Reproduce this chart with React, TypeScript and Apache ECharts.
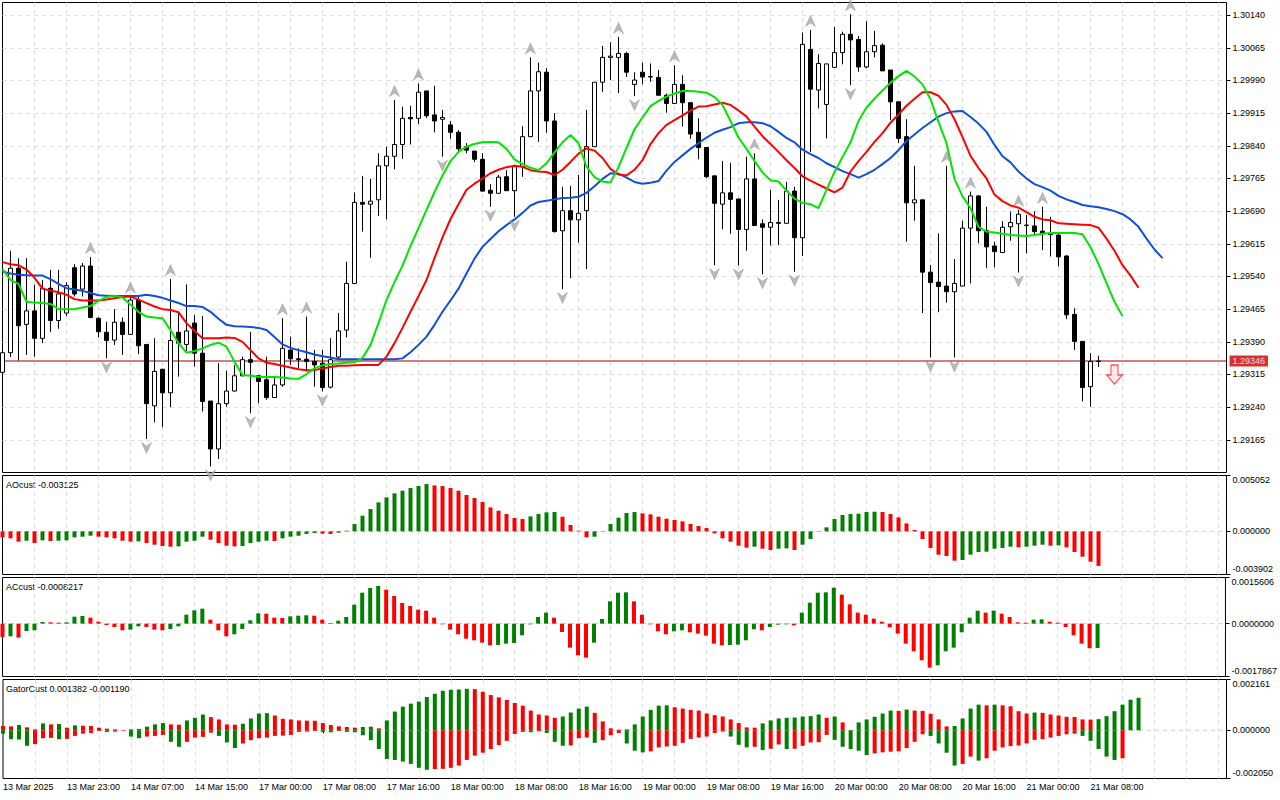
import React, { useEffect, useRef } from "react";
import * as echarts from "echarts";

const FONT = '"Liberation Sans", Arial, sans-serif';
const GREEN = "#008000";
const RED = "#ff0000";
const GRIDC = "#dcdcdc";

const tickLabels = ["13 Mar 2025","13 Mar 23:00","14 Mar 07:00","14 Mar 15:00","17 Mar 00:00","17 Mar 08:00","17 Mar 16:00","18 Mar 00:00","18 Mar 08:00","18 Mar 16:00","19 Mar 00:00","19 Mar 08:00","19 Mar 16:00","20 Mar 00:00","20 Mar 08:00","20 Mar 16:00","21 Mar 00:00","21 Mar 08:00"];
const priceTicks = [1.29165,1.29240,1.29315,1.29390,1.29465,1.29540,1.29615,1.29690,1.29765,1.29840,1.29915,1.29990,1.30065,1.30140];

const open = [1.29320,1.29365,1.29559,1.29430,1.29461,1.29398,1.29513,1.29439,1.29456,1.29560,
1.29511,1.29564,1.29444,1.29412,1.29394,1.29435,1.29407,1.29486,1.29384,1.29243,
1.29327,1.29273,1.29412,1.29384,1.29433,1.29364,1.29254,1.29144,1.29248,1.29277,
1.29312,1.29349,1.29312,1.29303,1.29262,1.29291,1.29371,1.29351,1.29350,1.29345,
1.29341,1.29286,1.29355,1.29417,1.29524,1.29710,1.29706,1.29716,1.29794,1.29816,
1.29843,1.29905,1.29903,1.29966,1.29911,1.29901,1.29888,1.29871,1.29838,1.29828,
1.29809,1.29738,1.29731,1.29769,1.29737,1.29792,1.29861,1.29966,1.30009,1.29897,
1.29645,1.29691,1.29670,1.29691,1.29838,1.29986,1.30043,1.30043,1.30052,1.29981,
1.30009,1.29999,1.29997,1.29956,1.29937,1.29981,1.29939,1.29871,1.29836,1.29771,
1.29706,1.29732,1.29718,1.29648,1.29764,1.29661,1.29653,1.29664,1.29662,1.29736,
1.29629,1.30061,1.29968,1.29935,1.30020,1.30054,1.30096,1.30084,1.30021,1.30056,
1.30071,1.30014,1.29941,1.29861,1.29709,1.29716,1.29550,1.29527,1.29518,1.29505,
1.29518,1.29651,1.29725,1.29645,1.29610,1.29595,1.29654,1.29661,1.29658,1.29656,
1.29644,1.29638,1.29635,1.29587,1.29453,1.29391,1.29287,1.29345];

const high = [1.29374,1.29599,1.29582,1.29582,1.29521,1.29532,1.29555,1.29555,1.29527,1.29568,
1.29571,1.29585,1.29446,1.29436,1.29465,1.29446,1.29494,1.29494,1.29385,1.29398,
1.29328,1.29534,1.29459,1.29522,1.29452,1.29449,1.29254,1.29341,1.29324,1.29337,
1.29356,1.29413,1.29313,1.29356,1.29312,1.29444,1.29402,1.29375,1.29448,1.29371,
1.29371,1.29398,1.29456,1.29574,1.29733,1.29771,1.29764,1.29823,1.29838,1.29945,
1.29930,1.29932,1.29983,1.29966,1.29978,1.29922,1.29897,1.29876,1.29846,1.29828,
1.29823,1.29752,1.29773,1.29784,1.29796,1.29885,1.30043,1.30031,1.30018,1.29915,
1.29746,1.29748,1.29773,1.29922,1.29986,1.30069,1.30078,1.30090,1.30056,1.30009,
1.30031,1.30029,1.30014,1.29960,1.30025,1.30002,1.29939,1.29903,1.29836,1.29771,
1.29805,1.29801,1.29718,1.29815,1.29823,1.29671,1.29739,1.29716,1.29757,1.29746,
1.30100,1.30106,1.30050,1.30028,1.30113,1.30102,1.30142,1.30092,1.30126,1.30104,
1.30075,1.30014,1.29941,1.29901,1.29794,1.29716,1.29566,1.29639,1.29794,1.29580,
1.29668,1.29735,1.29727,1.29700,1.29620,1.29667,1.29689,1.29693,1.29681,1.29690,
1.29700,1.29677,1.29639,1.29589,1.29467,1.29391,1.29364,1.29358];

const low = [1.29312,1.29355,1.29347,1.29360,1.29356,1.29387,1.29413,1.29420,1.29449,1.29494,
1.29494,1.29444,1.29400,1.29352,1.29383,1.29360,1.29406,1.29362,1.29167,1.29205,
1.29194,1.29240,1.29310,1.29368,1.29333,1.29230,1.29104,1.29121,1.29241,1.29276,
1.29311,1.29226,1.29249,1.29257,1.29261,1.29287,1.29337,1.29329,1.29322,1.29287,
1.29276,1.29283,1.29350,1.29400,1.29523,1.29643,1.29583,1.29679,1.29671,1.29786,
1.29810,1.29843,1.29890,1.29904,1.29871,1.29815,1.29856,1.29826,1.29823,1.29803,
1.29735,1.29700,1.29731,1.29737,1.29677,1.29769,1.29860,1.29849,1.29870,1.29641,
1.29511,1.29536,1.29618,1.29557,1.29838,1.29964,1.29991,1.29961,1.29998,1.29954,
1.29981,1.29987,1.29956,1.29916,1.29937,1.29884,1.29856,1.29809,1.29766,1.29566,
1.29648,1.29638,1.29565,1.29599,1.29656,1.29545,1.29611,1.29612,1.29662,1.29551,
1.29587,1.29826,1.29926,1.29857,1.30020,1.30027,1.29979,1.30010,1.30018,1.30043,
1.30012,1.29899,1.29846,1.29620,1.29668,1.29456,1.29354,1.29458,1.29480,1.29354,
1.29518,1.29524,1.29616,1.29559,1.29561,1.29595,1.29622,1.29549,1.29593,1.29635,
1.29601,1.29586,1.29563,1.29442,1.29371,1.29253,1.29241,1.29332];

const close = [1.29365,1.29559,1.29427,1.29461,1.29398,1.29513,1.29439,1.29500,1.29519,1.29500,
1.29564,1.29446,1.29413,1.29393,1.29435,1.29407,1.29486,1.29381,1.29248,1.29322,
1.29273,1.29393,1.29387,1.29415,1.29364,1.29253,1.29144,1.29248,1.29277,1.29312,
1.29349,1.29343,1.29299,1.29262,1.29291,1.29375,1.29351,1.29349,1.29345,1.29337,
1.29285,1.29349,1.29415,1.29524,1.29710,1.29706,1.29713,1.29794,1.29816,1.29843,
1.29903,1.29902,1.29963,1.29909,1.29897,1.29905,1.29871,1.29833,1.29830,1.29809,
1.29736,1.29731,1.29768,1.29737,1.29792,1.29861,1.29966,1.30010,1.29897,1.29643,
1.29691,1.29670,1.29685,1.29838,1.29986,1.30043,1.30046,1.30052,1.30009,1.29991,
1.29998,1.29998,1.29956,1.29937,1.29981,1.29939,1.29867,1.29836,1.29769,1.29708,
1.29732,1.29717,1.29648,1.29764,1.29657,1.29653,1.29664,1.29662,1.29736,1.29629,
1.30073,1.29970,1.30029,1.30028,1.30054,1.30096,1.30083,1.30021,1.30056,1.30070,
1.30012,1.29941,1.29857,1.29709,1.29716,1.29550,1.29526,1.29517,1.29505,1.29524,
1.29651,1.29725,1.29645,1.29608,1.29597,1.29653,1.29664,1.29683,1.29657,1.29643,
1.29638,1.29636,1.29585,1.29452,1.29391,1.29285,1.29345,1.29346];

const jaw = [1.29551,1.29547,1.29544,1.29543,1.29542,1.29542,1.29534,1.29523,1.29513,1.29510,
1.29507,1.29502,1.29497,1.29496,1.29495,1.29495,1.29495,1.29495,1.29498,1.29495,
1.29491,1.29485,1.29479,1.29472,1.29472,1.29470,1.29459,1.29443,1.29429,1.29426,
1.29425,1.29424,1.29422,1.29417,1.29401,1.29384,1.29376,1.29371,1.29366,1.29361,
1.29357,1.29354,1.29350,1.29350,1.29350,1.29350,1.29350,1.29350,1.29350,1.29350,
1.29352,1.29366,1.29383,1.29402,1.29429,1.29459,1.29485,1.29512,1.29547,1.29581,
1.29608,1.29626,1.29644,1.29658,1.29671,1.29686,1.29703,1.29711,1.29714,1.29717,
1.29720,1.29721,1.29723,1.29732,1.29747,1.29764,1.29777,1.29776,1.29767,1.29757,
1.29753,1.29755,1.29759,1.29783,1.29803,1.29818,1.29833,1.29846,1.29859,1.29870,
1.29877,1.29883,1.29892,1.29894,1.29894,1.29892,1.29885,1.29872,1.29858,1.29848,
1.29831,1.29821,1.29812,1.29800,1.29791,1.29782,1.29775,1.29767,1.29775,1.29785,
1.29798,1.29812,1.29830,1.29851,1.29866,1.29881,1.29894,1.29907,1.29915,1.29919,
1.29920,1.29906,1.29891,1.29872,1.29842,1.29816,1.29802,1.29781,1.29765,1.29752,
1.29745,1.29737,1.29725,1.29717,1.29711,1.29704,1.29701,1.29699,1.29695,1.29690,
1.29683,1.29671,1.29654,1.29627,1.29602,1.29582];

const teeth = [1.29573,1.29568,1.29566,1.29556,1.29537,1.29512,1.29508,1.29504,1.29498,1.29488,
1.29485,1.29485,1.29485,1.29487,1.29490,1.29493,1.29494,1.29487,1.29479,1.29471,
1.29465,1.29463,1.29458,1.29433,1.29415,1.29398,1.29398,1.29398,1.29400,1.29399,
1.29390,1.29371,1.29352,1.29342,1.29339,1.29335,1.29331,1.29327,1.29325,1.29325,
1.29329,1.29332,1.29335,1.29335,1.29336,1.29337,1.29337,1.29337,1.29356,1.29387,
1.29422,1.29459,1.29495,1.29532,1.29582,1.29630,1.29672,1.29706,1.29739,1.29753,
1.29765,1.29777,1.29785,1.29791,1.29794,1.29792,1.29784,1.29781,1.29780,1.29773,
1.29785,1.29803,1.29822,1.29834,1.29829,1.29812,1.29787,1.29774,1.29772,1.29785,
1.29807,1.29844,1.29869,1.29888,1.29899,1.29910,1.29921,1.29930,1.29931,1.29935,
1.29939,1.29934,1.29921,1.29907,1.29884,1.29862,1.29844,1.29826,1.29807,1.29789,
1.29770,1.29760,1.29751,1.29742,1.29733,1.29744,1.29781,1.29805,1.29826,1.29849,
1.29869,1.29893,1.29912,1.29932,1.29948,1.29963,1.29963,1.29955,1.29934,1.29901,
1.29860,1.29817,1.29789,1.29765,1.29728,1.29713,1.29703,1.29698,1.29688,1.29677,
1.29671,1.29669,1.29662,1.29661,1.29660,1.29659,1.29658,1.29652,1.29627,1.29599,
1.29566,1.29542,1.29514];

const lips = [1.29557,1.29532,1.29523,1.29482,1.29480,1.29479,1.29477,1.29465,1.29465,1.29465,
1.29469,1.29472,1.29484,1.29493,1.29496,1.29492,1.29475,1.29459,1.29448,1.29446,
1.29444,1.29417,1.29387,1.29365,1.29369,1.29375,1.29383,1.29388,1.29379,1.29344,
1.29314,1.29312,1.29310,1.29309,1.29309,1.29308,1.29306,1.29305,1.29316,1.29329,
1.29336,1.29339,1.29340,1.29342,1.29343,1.29353,1.29383,1.29433,1.29486,1.29527,
1.29565,1.29610,1.29651,1.29693,1.29734,1.29772,1.29805,1.29826,1.29838,1.29844,
1.29848,1.29849,1.29848,1.29833,1.29809,1.29798,1.29790,1.29784,1.29800,1.29825,
1.29848,1.29865,1.29846,1.29792,1.29768,1.29758,1.29756,1.29791,1.29835,1.29878,
1.29905,1.29931,1.29943,1.29953,1.29960,1.29966,1.29966,1.29964,1.29962,1.29952,
1.29934,1.29897,1.29859,1.29833,1.29805,1.29779,1.29761,1.29758,1.29737,1.29719,
1.29709,1.29706,1.29697,1.29739,1.29780,1.29814,1.29848,1.29897,1.29928,1.29948,
1.29967,1.29985,1.30000,1.30012,1.29999,1.29981,1.29947,1.29895,1.29846,1.29764,
1.29724,1.29697,1.29654,1.29643,1.29641,1.29638,1.29635,1.29634,1.29633,1.29635,
1.29638,1.29640,1.29640,1.29640,1.29640,1.29637,1.29607,1.29569,1.29525,1.29482,
1.29449];

const fractalUp = [11,16,21,35,38,49,52,66,77,84,94,101,106,118,121,127,130];
const fractalDown = [13,18,26,31,40,55,61,64,70,79,89,92,95,99,106,116,119,127];
const sellSignal = [139, 1.29315];

const ao = [-0.000543,-0.000633,-0.000934,-0.000844,-0.001055,-0.000814,-0.000874,-0.000844,-0.000814,-0.000543,
-0.000482,-0.000392,-0.000482,-0.000543,-0.000633,-0.000844,-0.000934,-0.000904,-0.001055,-0.001206,
-0.001326,-0.001386,-0.001356,-0.000934,-0.000844,-0.000482,-0.000754,-0.001055,-0.001296,-0.001356,
-0.001326,-0.001055,-0.000934,-0.000844,-0.000874,-0.000633,-0.000482,-0.000392,-0.000241,-0.000151,
-0.000211,-0.000241,-0.000121,0.000060,0.000663,0.001417,0.002019,0.002622,0.003074,0.003436,
0.003677,0.003918,0.004099,0.004280,0.004159,0.004099,0.003918,0.003677,0.003285,0.003014,
0.002652,0.002170,0.001869,0.001567,0.001206,0.001115,0.001356,0.001567,0.001718,0.001748,
0.001326,0.000573,0.000060,-0.000543,-0.000482,0.000030,0.000663,0.001236,0.001658,0.001748,
0.001628,0.001537,0.001326,0.001145,0.001025,0.000904,0.000663,0.000482,0.000301,-0.000181,
-0.000633,-0.000934,-0.001296,-0.001477,-0.001386,-0.001567,-0.001688,-0.001567,-0.001537,-0.001688,
-0.001206,-0.000693,0.000030,0.000362,0.001115,0.001477,0.001567,0.001597,0.001748,0.001778,
0.001748,0.001567,0.001266,0.000723,0.000121,-0.000693,-0.001507,-0.002110,-0.002230,-0.002652,
-0.002592,-0.002110,-0.001869,-0.001839,-0.001567,-0.001507,-0.001386,-0.001447,-0.001386,-0.001296,
-0.001206,-0.001296,-0.001266,-0.001447,-0.001869,-0.002291,-0.002743,-0.003125];

const ac = [-0.000450,-0.000428,-0.000473,-0.000248,-0.000225,0.000056,0.000045,0.000034,0.000045,0.000236,
0.000259,0.000203,0.000068,-0.000045,-0.000113,-0.000225,-0.000203,-0.000090,-0.000113,-0.000203,
-0.000225,-0.000180,-0.000090,0.000304,0.000450,0.000507,0.000135,-0.000225,-0.000428,-0.000360,
-0.000180,0.000113,0.000349,0.000338,0.000203,0.000191,0.000248,0.000270,0.000282,0.000270,
0.000135,0.000023,0.000101,0.000225,0.000642,0.001047,0.001205,0.001273,0.001149,0.000935,
0.000698,0.000597,0.000473,0.000439,0.000203,-0.000023,-0.000203,-0.000360,-0.000507,-0.000563,
-0.000642,-0.000732,-0.000721,-0.000676,-0.000653,-0.000394,-0.000023,0.000225,0.000372,0.000203,
-0.000282,-0.000811,-0.001070,-0.001149,-0.000642,0.000158,0.000755,0.001047,0.001059,0.000755,
0.000304,-0.000023,-0.000259,-0.000360,-0.000259,-0.000225,-0.000293,-0.000338,-0.000405,-0.000676,
-0.000732,-0.000721,-0.000709,-0.000563,-0.000191,-0.000225,-0.000113,-0.000034,-0.000023,-0.000056,
0.000372,0.000709,0.001047,0.001059,0.001216,0.000980,0.000653,0.000372,0.000304,0.000169,
0.000068,-0.000124,-0.000338,-0.000676,-0.000935,-0.001239,-0.001486,-0.001408,-0.000935,-0.000811,
-0.000293,0.000203,0.000439,0.000372,0.000439,0.000338,0.000225,0.000045,0.000034,0.000135,
0.000146,0.000068,0.000034,-0.000113,-0.000394,-0.000676,-0.000833,-0.0008217];

const gatorUp = [0.000182,0.000168,0.000224,0.000126,0.000042,0.000294,0.000252,0.000266,0.000112,0.000210,
0.000196,0.000182,0.000112,0.000070,0.000042,0.000014,0.000042,0.000056,0.000154,0.000252,
0.000308,0.000252,0.000238,0.000420,0.000532,0.000672,0.000560,0.000462,0.000252,0.000238,
0.000280,0.000504,0.000714,0.000728,0.000630,0.000490,0.000462,0.000420,0.000413,0.000406,
0.000308,0.000224,0.000168,0.000140,0.000112,0.000140,0.000154,0.000084,0.000420,0.000798,
0.001008,0.001134,0.001219,0.001415,0.001555,0.001681,0.001723,0.001737,0.001765,0.001751,
0.001639,0.001499,0.001401,0.001289,0.001162,0.001050,0.000840,0.000672,0.000630,0.000532,
0.000588,0.000756,0.000924,0.001008,0.000742,0.000378,0.000084,0.000028,0.000042,0.000252,
0.000588,0.000868,0.001050,0.001064,0.000980,0.000924,0.000868,0.000840,0.000714,0.000644,
0.000588,0.000462,0.000308,0.000126,0.000112,0.000294,0.000420,0.000504,0.000532,0.000546,
0.000588,0.000602,0.000672,0.000532,0.000588,0.000336,0.000014,0.000336,0.000462,0.000574,
0.000714,0.000840,0.000826,0.000882,0.000840,0.000826,0.000700,0.000462,0.000168,0.000182,
0.000504,0.000924,0.001092,0.001064,0.001092,0.001064,0.001022,0.000812,0.000714,0.000756,
0.000742,0.000672,0.000630,0.000574,0.000567,0.000462,0.000455,0.000476,0.000602,0.000812,
0.001092,0.001302,0.001382];

const gatorDown = [-0.000140,-0.000378,-0.000392,-0.000658,-0.000588,-0.000336,-0.000322,-0.000378,-0.000364,-0.000238,
-0.000140,-0.000112,-0.000028,-0.000070,-0.000056,-0.000014,-0.000266,-0.000336,-0.000266,-0.000238,
-0.000196,-0.000490,-0.000700,-0.000490,-0.000308,-0.000280,-0.000098,-0.000238,-0.000518,-0.000756,
-0.000560,-0.000420,-0.000336,-0.000308,-0.000238,-0.000224,-0.000196,-0.000070,-0.000056,-0.000028,
-0.000070,-0.000084,-0.000028,-0.000070,-0.000084,-0.000210,-0.000420,-0.000798,-0.001219,-0.001261,
-0.001331,-0.001429,-0.001597,-0.001681,-0.001653,-0.001639,-0.001597,-0.001499,-0.001261,-0.001078,
-0.000952,-0.000798,-0.000630,-0.000448,-0.000154,-0.000070,-0.000084,-0.000042,-0.000112,-0.000490,
-0.000658,-0.000644,-0.000336,-0.000308,-0.000532,-0.000420,-0.000210,-0.000112,-0.000560,-0.000868,
-0.000938,-0.000896,-0.000728,-0.000686,-0.000658,-0.000532,-0.000364,-0.000308,-0.000266,-0.000112,
-0.000056,-0.000266,-0.000616,-0.000728,-0.000700,-0.000840,-0.000784,-0.000602,-0.000798,-0.000784,
-0.000658,-0.000518,-0.000504,-0.000196,-0.000406,-0.000700,-0.000798,-0.000868,-0.001050,-0.000980,
-0.000938,-0.000910,-0.000896,-0.000756,-0.000490,-0.000168,-0.000238,-0.000560,-0.000952,-0.001499,
-0.001429,-0.001120,-0.001289,-0.001190,-0.000868,-0.000728,-0.000672,-0.000644,-0.000560,-0.000406,
-0.000378,-0.000308,-0.000238,-0.000168,-0.000140,-0.000238,-0.000448,-0.000798,-0.001120,-0.001261,
-0.001190];

const aoRange = [-0.003902, 0.005052];
const acRange = [-0.0017867, 0.0015606];
const gatorRange = [-0.002050, 0.002161];

const SLOTS = 154;
const categories = Array.from({ length: SLOTS }, (_, i) => String(i));

function histColors(vals: number[], first: string, useAbs = false): string[] {
  const out: string[] = [];
  for (let i = 0; i < vals.length; i++) {
    if (i === 0) { out.push(first); continue; }
    const a = useAbs ? Math.abs(vals[i]) : vals[i];
    const b = useAbs ? Math.abs(vals[i - 1]) : vals[i - 1];
    out.push(a > b ? GREEN : a < b ? RED : out[i - 1]);
  }
  return out;
}

const UP_PATH = "path://M5,0 L10,11 L5,7.5 L0,11 Z";
const DOWN_PATH = "path://M0,0 L5,3.5 L10,0 L5,11 Z";
const SELL_PATH = "path://M4.5,0 L11.5,0 L11.5,10 L16,10 L8,19 L0,10 L4.5,10 Z";

export default function App() {
  const ref = useRef<HTMLDivElement>(null);

  useEffect(() => {
    if (!ref.current) return;
    const chart = echarts.init(ref.current, undefined, { renderer: "svg" });

    const lastIdx = close.length - 1;
    const lastPrice = close[lastIdx];
    const candleData = open.map((o, i) => [o, close[i], low[i], high[i]]);
    const aoCol = histColors(ao, RED);
    const acCol = histColors(ac, RED);
    const guCol = histColors(gatorUp, RED);
    const gdCol = histColors(gatorDown, GREEN, true);

    const gridBase = { left: 2.5, width: 1224, show: true, borderColor: "#000", borderWidth: 1, backgroundColor: "#fff" };
    const grids = [
      { ...gridBase, top: 2.5, height: 470 },
      { ...gridBase, top: 475.5, height: 99 },
      { ...gridBase, top: 577.5, height: 99 },
      { ...gridBase, top: 679.5, height: 99 },
    ];

    const labelShow = (idx: number) => idx % 8 === 0 && idx <= lastIdx;
    const xAxes = [0, 1, 2, 3].map((gi) => {
      const bottom = gi === 3;
      return {
        type: "category",
        gridIndex: gi,
        data: categories,
        boundaryGap: false,
        axisLine: { show: false },
        axisTick: bottom
          ? { show: true, interval: (idx: number) => labelShow(idx), length: 3, lineStyle: { color: "#000" } }
          : { show: false },
        axisLabel: bottom
          ? {
              show: true,
              interval: (idx: number) => labelShow(idx),
              formatter: (v: string) => tickLabels[Number(v) / 8] ?? "",
              align: "left",
              margin: 4,
              fontSize: 9,
              fontFamily: FONT,
              color: "#000",
            }
          : { show: false },
        splitLine: {
          show: true,
          interval: (idx: number) => idx % 4 === 0 && idx > 0 && idx < SLOTS - 1,
          lineStyle: { color: GRIDC, type: [4, 4], width: 1 },
        },
      };
    });

    const richStyle = { fontSize: 9, fontFamily: FONT, color: "#000" };
    const subAxis = (gi: number, range: number[], dec: number) => {
      const [mn, mx] = range;
      const vals = [mn, 0, mx];
      return {
        type: "value",
        gridIndex: gi,
        position: "right",
        min: mn,
        max: mx,
        axisLine: { show: false },
        splitLine: { show: false },
        axisTick: { show: true, length: 4, customValues: vals, lineStyle: { color: "#000" } },
        axisLabel: {
          customValues: vals,
          margin: 6,
          fontSize: 9,
          fontFamily: FONT,
          color: "#000",
          formatter: (v: number) => {
            const s = (Math.abs(v) < 1e-12 ? 0 : v).toFixed(dec);
            if (Math.abs(v - mx) < 1e-12) return `{t|${s}}`;
            if (Math.abs(v - mn) < 1e-12) return `{b|${s}}`;
            return s;
          },
          rich: {
            t: { ...richStyle, padding: [9, 0, 0, 0] },
            b: { ...richStyle, padding: [0, 0, 11, 0] },
          },
        },
      };
    };

    const yAxes = [
      {
        type: "value",
        gridIndex: 0,
        position: "right",
        min: 1.2909,
        max: 1.30169,
        interval: 0.00075,
        axisLine: { show: false },
        axisTick: { show: true, length: 4, customValues: priceTicks, lineStyle: { color: "#000" } },
        axisLabel: {
          customValues: priceTicks,
          formatter: (v: number) => v.toFixed(5),
          margin: 6,
          fontSize: 9,
          fontFamily: FONT,
          color: "#000",
        },
        splitLine: { show: true, lineStyle: { color: GRIDC, type: [4, 4], width: 1 } },
      },
      subAxis(1, aoRange, 6),
      subAxis(2, acRange, 7),
      subAxis(3, gatorRange, 6),
    ];

    const zeroLine = (gi: number) => ({
      type: "line",
      xAxisIndex: gi,
      yAxisIndex: gi,
      data: [[0, 0], [SLOTS - 1, 0]],
      symbol: "none",
      silent: true,
      lineStyle: { color: "#cfcfcf", type: [4, 4], width: 1 },
      z: 1,
    });

    const line = (data: number[], color: string) => ({
      type: "line",
      xAxisIndex: 0,
      yAxisIndex: 0,
      data,
      symbol: "none",
      showSymbol: false,
      silent: true,
      lineStyle: { color, width: 2 },
      z: 3,
    });

    const option: any = {
      animation: false,
      backgroundColor: "#fff",
      grid: grids,
      xAxis: xAxes,
      yAxis: yAxes,
      graphic: [
        { type: "text", x: 6, y: 484.5, style: { text: `AOcust ${ao[ao.length - 1].toFixed(6)}`, fill: "#000", fontSize: 9, fontFamily: FONT, verticalAlign: "middle" } },
        { type: "text", x: 6, y: 586.5, style: { text: `ACcust ${ac[ac.length - 1].toFixed(7)}`, fill: "#000", fontSize: 9, fontFamily: FONT, verticalAlign: "middle" } },
        { type: "text", x: 6, y: 688.5, style: { text: `GatorCust ${gatorUp[gatorUp.length - 1].toFixed(6)} ${gatorDown[gatorDown.length - 1].toFixed(6)}`, fill: "#000", fontSize: 9, fontFamily: FONT, verticalAlign: "middle" } },
      ],
      series: [
        {
          type: "line",
          xAxisIndex: 0,
          yAxisIndex: 0,
          data: [[0, lastPrice], [SLOTS - 1, lastPrice]],
          symbol: "none",
          silent: true,
          lineStyle: { color: "#a00000", width: 1.2 },
          z: 1,
        },
        {
          type: "candlestick",
          xAxisIndex: 0,
          yAxisIndex: 0,
          data: candleData,
          barWidth: 4,
          silent: true,
          itemStyle: { color: "#ffffff", color0: "#000000", borderColor: "#000000", borderColor0: "#000000", borderWidth: 1 },
          z: 2,
        },
        line(jaw, "#1050d8"),
        line(teeth, "#ff0000"),
        line(lips, "#00e600"),
        {
          type: "scatter",
          xAxisIndex: 0,
          yAxisIndex: 0,
          data: fractalUp.map((i) => [i, high[i]]),
          symbol: UP_PATH,
          symbolSize: [10, 11],
          symbolOffset: [0, -9],
          silent: true,
          itemStyle: { color: "#a9a9a9", borderColor: "#8a8a8a", borderWidth: 0.5 },
          z: 4,
        },
        {
          type: "scatter",
          xAxisIndex: 0,
          yAxisIndex: 0,
          data: fractalDown.map((i) => [i, low[i]]),
          symbol: DOWN_PATH,
          symbolSize: [10, 11],
          symbolOffset: [0, 9],
          silent: true,
          itemStyle: { color: "#a9a9a9", borderColor: "#8a8a8a", borderWidth: 0.5 },
          z: 4,
        },
        {
          type: "scatter",
          xAxisIndex: 0,
          yAxisIndex: 0,
          data: [sellSignal],
          symbol: SELL_PATH,
          symbolSize: [16, 19],
          silent: true,
          itemStyle: { color: "#ffe2e8", borderColor: "#ff2a2a", borderWidth: 1.2 },
          z: 4,
        },
        {
          type: "scatter",
          xAxisIndex: 0,
          yAxisIndex: 0,
          data: [[SLOTS - 1, lastPrice]],
          symbol: "circle",
          symbolSize: 0.01,
          clip: false,
          silent: true,
          itemStyle: { color: "rgba(0,0,0,0)" },
          label: {
            show: true,
            position: "right",
            distance: 3,
            formatter: () => lastPrice.toFixed(5),
            backgroundColor: "#c80000",
            color: "#ffffff",
            padding: [1, 3, 1, 3],
            fontSize: 9,
            fontFamily: FONT,
          },
          z: 10,
        },
        zeroLine(1),
        zeroLine(2),
        zeroLine(3),
        {
          type: "bar",
          xAxisIndex: 1,
          yAxisIndex: 1,
          barWidth: 4,
          silent: true,
          data: ao.map((v, i) => ({ value: v, itemStyle: { color: aoCol[i] } })),
          z: 2,
        },
        {
          type: "bar",
          xAxisIndex: 2,
          yAxisIndex: 2,
          barWidth: 4,
          silent: true,
          data: ac.map((v, i) => ({ value: v, itemStyle: { color: acCol[i] } })),
          z: 2,
        },
        {
          type: "bar",
          xAxisIndex: 3,
          yAxisIndex: 3,
          barWidth: 4,
          barGap: "-100%",
          silent: true,
          data: gatorUp.map((v, i) => ({ value: v, itemStyle: { color: guCol[i] } })),
          z: 2,
        },
        {
          type: "bar",
          xAxisIndex: 3,
          yAxisIndex: 3,
          barWidth: 4,
          barGap: "-100%",
          silent: true,
          data: gatorDown.map((v, i) => ({ value: v, itemStyle: { color: gdCol[i] } })),
          z: 2,
        },
      ],
    };

    chart.setOption(option);
    return () => chart.dispose();
  }, []);

  return (
    <div
      ref={ref}
      style={{ position: "fixed", left: 0, top: 0, width: 1280, height: 800, background: "#fff" }}
    />
  );
}
